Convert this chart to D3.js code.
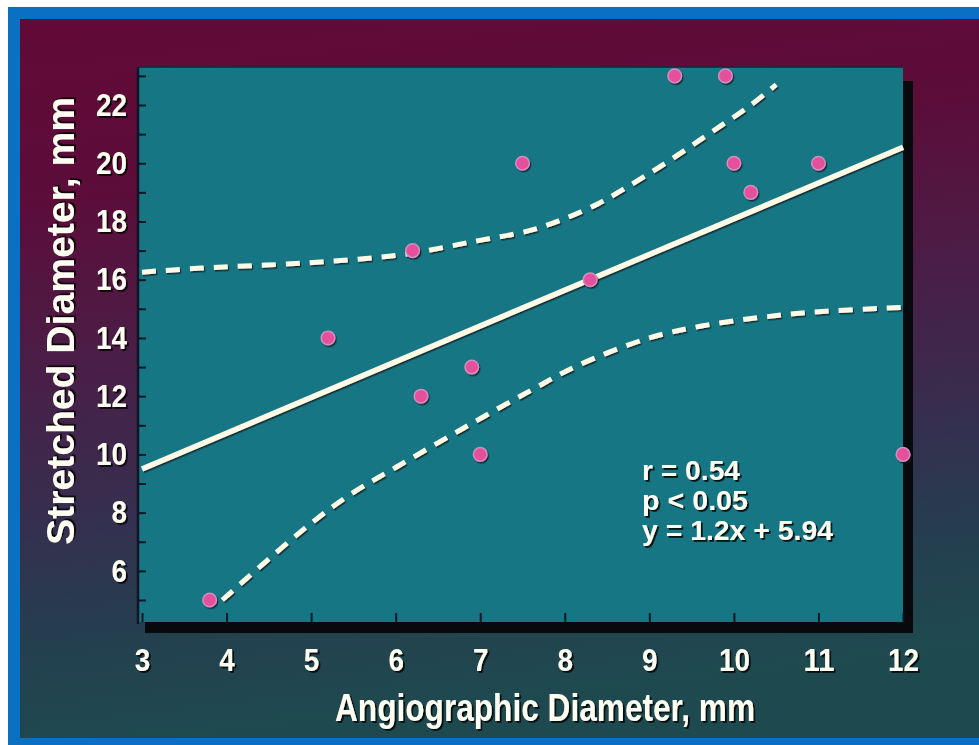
<!DOCTYPE html>
<html><head><meta charset="utf-8">
<script src="https://cdn.jsdelivr.net/npm/d3@7"></script>
<style>html,body{margin:0;padding:0;background:#fff;}svg{display:block;}</style>
</head><body>
<script>
// ---- data ----
const angio     = [3.8, 5.2, 6.2, 6.3, 6.9, 7.0, 7.5, 8.3, 9.3, 9.9, 10.0, 10.2, 11.0, 12.0];
const stretched = [5,   14,  17,  12,  13,  10,  20,  16,  23,  23,  20,   19,   20,   10];
const fitX = [3, 12];
const fitY = [9.5, 20.55];
const upperX = [3.0, 3.7, 4.9, 6.05, 6.9, 7.6, 8.0, 8.4, 8.7, 9.2, 9.7, 10.2, 10.5];
const upperY = [16.26, 16.4, 16.57, 16.85, 17.3, 17.7, 18.1, 18.62, 19.12, 20.02, 21.0, 22.0, 22.7];
const lowerX = [3.95, 4.9, 5.45, 6.0, 6.8, 7.6, 8.15, 9.0, 9.6, 10.3, 11.0, 12.0];
const lowerY = [5.0, 7.4, 8.6, 9.55, 10.9, 12.2, 13.05, 14.0, 14.4, 14.7, 14.9, 15.05];
const xTicks = [3, 4, 5, 6, 7, 8, 9, 10, 11, 12];
const yTicks = [5, 6, 7, 8, 9, 10, 11, 12, 13, 14, 15, 16, 17, 18, 19, 20, 21, 22, 23];
const yLabels = [6, 8, 10, 12, 14, 16, 18, 20, 22];
const statsLines = ["r = 0.54", "p < 0.05", "y = 1.2x + 5.94"];
const xTitle = "Angiographic Diameter, mm";
const yTitle = "Stretched Diameter, mm";

// ---- layout ----
const W = 979, H = 745;
const svg = d3.select("body").append("svg").attr("width", W).attr("height", H);
const defs = svg.append("defs");
const bg = defs.append("linearGradient").attr("id", "bg").attr("x1", 0).attr("y1", 0).attr("x2", 0.15).attr("y2", 1);
[[0, "#620a37"], [0.25, "#5c0d3a"], [0.5, "#482048"], [0.7, "#34304f"], [0.85, "#243f4f"], [1, "#1e4a4f"]]
  .forEach(([o, c]) => bg.append("stop").attr("offset", o).attr("stop-color", c));
const sh = defs.append("filter").attr("id", "sh").attr("x", "-10%").attr("y", "-10%").attr("width", "130%").attr("height", "130%");
sh.append("feDropShadow").attr("dx", 1.8).attr("dy", 1.8).attr("stdDeviation", 0.6).attr("flood-color", "#000").attr("flood-opacity", 0.85);
const shs = defs.append("filter").attr("id", "shs").attr("x", "-10%").attr("y", "-10%").attr("width", "130%").attr("height", "130%");
shs.append("feDropShadow").attr("dx", 1.2).attr("dy", 1.5).attr("stdDeviation", 0.5).attr("flood-color", "#0a1a22").attr("flood-opacity", 0.8);

// frame
svg.append("rect").attr("x", 8).attr("y", 7).attr("width", W).attr("height", H).attr("fill", "#0a71c2");
svg.append("rect").attr("x", 20).attr("y", 19).attr("width", W - 20).attr("height", 719).attr("fill", "url(#bg)");

const x = d3.scaleLinear().domain([3, 12]).range([142, 903]);
const y = d3.scaleLinear().domain([5, 22]).range([600, 105]);
const P = {l: 138, t: 67, r: 903, b: 622};

// plot shadow + plot
svg.append("rect").attr("x", P.l + 7).attr("y", P.t + 14).attr("width", P.r - P.l + 3).attr("height", P.b - P.t - 3)
  .attr("fill", "#07090c");
svg.append("rect").attr("x", P.l).attr("y", P.t).attr("width", P.r - P.l).attr("height", P.b - P.t).attr("fill", "#177683");
svg.append("line").attr("x1", P.l).attr("x2", P.r).attr("y1", P.t).attr("y2", P.t).attr("stroke", "#1a2440").attr("stroke-width", 1.5);
svg.append("line").attr("x1", P.l).attr("x2", P.l).attr("y1", P.t).attr("y2", P.b + 2).attr("stroke", "#0c1626").attr("stroke-width", 2.5);

const font = "'Liberation Sans', Arial, Helvetica, sans-serif";

// y axis
const yAxis = svg.append("g").attr("transform", `translate(${P.l},0)`)
  .call(d3.axisLeft(y).tickValues(yTicks).tickSizeInner(-8).tickSizeOuter(0).tickPadding(11)
    .tickFormat(d => yLabels.includes(d) ? d : ""));
yAxis.select(".domain").remove();
yAxis.selectAll(".tick line").attr("stroke", "#0c1626").attr("stroke-width", 2);
yAxis.selectAll(".tick text").attr("fill", "#fffef2").attr("font-family", font).attr("font-weight", "bold")
  .attr("font-size", 32).attr("filter", "url(#sh)")
  .attr("textLength", d => String(d).length * 15.5).attr("lengthAdjust", "spacingAndGlyphs");

// x axis
const xAxis = svg.append("g").attr("transform", `translate(0,${P.b})`)
  .call(d3.axisBottom(x).tickValues(xTicks).tickSizeInner(-9).tickSizeOuter(0).tickPadding(26));
xAxis.select(".domain").remove();
xAxis.selectAll(".tick line").attr("stroke", "#0c1626").attr("stroke-width", 2);
xAxis.selectAll(".tick text").attr("fill", "#fffef2").attr("font-family", font).attr("font-weight", "bold")
  .attr("font-size", 32).attr("filter", "url(#sh)")
  .attr("textLength", d => String(d).length * 15.5).attr("lengthAdjust", "spacingAndGlyphs");

// confidence bands
const curve = d3.line().x(d => x(d[0])).y(d => y(d[1])).curve(d3.curveCatmullRom.alpha(0.5));
const up = upperX.map((v, i) => [v, upperY[i]]);
const lo = lowerX.map((v, i) => [v, lowerY[i]]);
[up, lo].forEach(pts => {
  svg.append("path").attr("d", curve(pts)).attr("fill", "none").attr("stroke", "#fffbe6")
    .attr("stroke-width", 5).attr("stroke-dasharray", "14 10").attr("filter", "url(#shs)");
});
// regression line
const straight = d3.line().x(d => x(d[0])).y(d => y(d[1]));
svg.append("path").attr("d", straight(fitX.map((v, i) => [v, fitY[i]]))).attr("fill", "none")
  .attr("stroke", "#fffbe6").attr("stroke-width", 5.5).attr("filter", "url(#shs)");

// points
const pts = angio.map((v, i) => [v, stretched[i]]);
svg.append("g").selectAll("circle").data(pts).join("circle")
  .attr("cx", d => x(d[0])).attr("cy", d => y(d[1])).attr("r", 6.8)
  .attr("fill", "#e64f9c").attr("stroke", "#cf8fc0").attr("stroke-width", 1.5).attr("filter", "url(#shs)");

// stats text
svg.append("g").selectAll("text").data(statsLines).join("text")
  .attr("x", 642).attr("y", (d, i) => 480 + i * 30)
  .attr("fill", "#fffef2").attr("font-family", font).attr("font-weight", "bold").attr("font-size", 27)
  .attr("filter", "url(#sh)")
  .attr("textLength", (d, i) => [98, 106, 191][i]).attr("lengthAdjust", "spacingAndGlyphs")
  .text(d => d);

// titles
svg.append("text").attr("x", 545).attr("y", 721).attr("text-anchor", "middle")
  .attr("fill", "#fffef2").attr("font-family", font).attr("font-weight", "bold").attr("font-size", 39)
  .attr("textLength", 420).attr("lengthAdjust", "spacingAndGlyphs").attr("filter", "url(#sh)")
  .text(xTitle);
svg.append("text").attr("transform", "translate(74,321) rotate(-90)").attr("text-anchor", "middle")
  .attr("fill", "#fffef2").attr("font-family", font).attr("font-weight", "bold").attr("font-size", 38)
  .attr("textLength", 448).attr("lengthAdjust", "spacingAndGlyphs").attr("filter", "url(#sh)")
  .text(yTitle);
</script>
</body></html>
